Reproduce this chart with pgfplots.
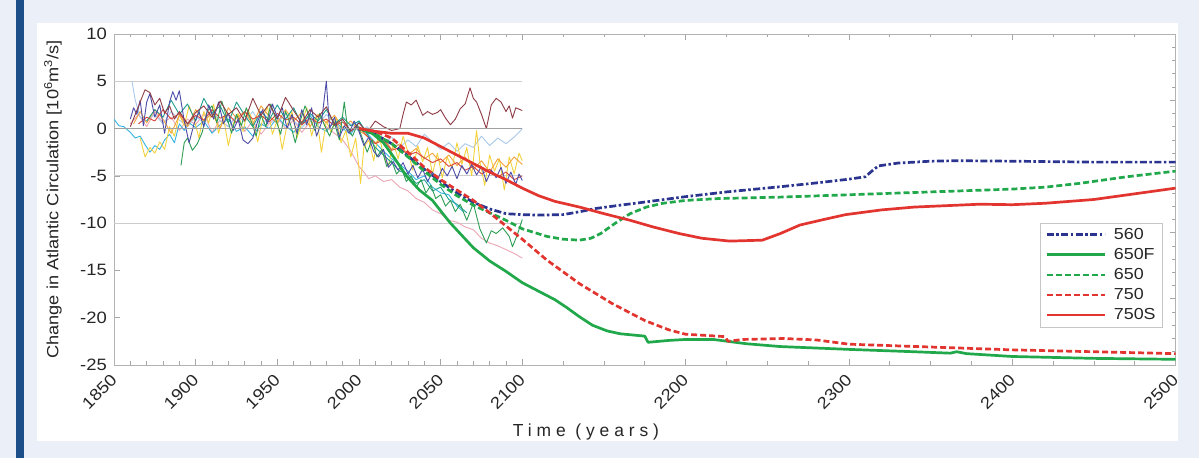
\documentclass[border=0pt]{standalone}
\usepackage{fontspec}
\setmainfont{Liberation Sans}[FakeStretch=1.12]
\newfontfamily\spaced{Liberation Sans}[LetterSpace=28]
\usepackage{pgfplots}
\pgfplotsset{compat=1.18}

\definecolor{bgcol}{HTML}{EBF0F8}
\definecolor{barcol}{HTML}{1C4E8A}
\definecolor{navy}{HTML}{2B3590}
\definecolor{grn}{HTML}{20A84A}
\definecolor{rd}{HTML}{E2352F}
% thin control / observed runs
\definecolor{tcyan}{HTML}{35B4E0}
\definecolor{tpale}{HTML}{A9C9EA}
\definecolor{tblue}{HTML}{4B4BA8}
\definecolor{tmaroon}{HTML}{8E3B46}
\definecolor{torange}{HTML}{F2A23A}
\definecolor{tyellow}{HTML}{F4D23E}
\definecolor{tgreen}{HTML}{2E9E55}
\definecolor{tpink}{HTML}{EBA6B5}
\definecolor{tteal}{HTML}{1E9E8E}
\definecolor{tred}{HTML}{D9453A}

\begin{document}
\begin{tikzpicture}[x=1bp,y=1bp]
\useasboundingbox (0,0) rectangle (1199,458);
\fill[bgcol] (0,0) rectangle (1199,458);
\fill[barcol] (16,0) rectangle (24,458);
\fill[white] (37,17) rectangle (1178,435);

% right-hand minor ticks
\begin{axis}[at={(114bp,93bp)}, anchor=south west, scale only axis,
  width=1061.6bp, height=331bp,
  xmin=0, xmax=1, ymin=0, ymax=25,
  hide x axis, axis y line*=right,
  ytick={0,5,...,25}, minor y tick num=4, yticklabels={},
  tick align=inside, major tick length=6bp, minor tick length=3.5bp,
  axis line style={draw=gray!60}, tick style={gray!70, line width=0.6bp}]
\end{axis}

\begin{axis}[at={(114bp,93bp)}, anchor=south west, scale only axis,
  width=1061.6bp, height=331bp,
  xmin=1850, xmax=2500, ymin=-25, ymax=10,
  axis line style={draw=gray!60, line width=0.8bp},
  tick style={gray!70, line width=0.6bp},
  tick align=inside, major tick length=6bp, minor tick length=3.5bp,
  ytick pos=left,
  xtick={1850,1900,1950,2000,2050,2100,2200,2300,2400,2500},
  xticklabels={1850,1900,1950,2000,2050,2100,2200,2300,2400,2500},
  minor xtick={1860,1870,1880,1890,1910,1920,1930,1940,1960,1970,1980,1990,2010,2020,2030,2040,2060,2070,2080,2090,2125,2150,2175,2225,2250,2275,2325,2350,2375,2425,2450,2475},
  ytick={-25,-20,-15,-10,-5,0,5,10},
  yticklabels={-25,-20,-15,-10,-5,0,5,10},
  tick label style={font=\fontsize{16.5}{17}\selectfont, text=black!85},
  x tick label style={rotate=45, anchor=east, inner sep=0pt},
  xticklabel shift=12bp,
  y tick label style={inner sep=1bp, xshift=-6bp},
  xlabel={\spaced Time (years)},
  xlabel style={at={(axis description cs:0.4446,-0.178)}, anchor=north, inner sep=0pt,
    font=\fontsize{17.5}{17}\selectfont, text=black!85},
  ylabel={Change in Atlantic Circulation [10\textsuperscript{6}m\textsuperscript{3}/s]},
  ylabel style={at={(axis description cs:-0.049,0.5)}, anchor=south, inner sep=0pt,
    font=\fontsize{16.3}{16}\selectfont, text=black!85},
  legend style={at={(rel axis cs:0.988,0.43)}, anchor=north east,
    draw=gray!45, font=\fontsize{16}{16}\selectfont, text=black!85,
    row sep=3.5bp, inner xsep=5bp, inner ysep=3.5bp, cells={anchor=west}},
  legend image code/.code={\draw[#1] (0bp,0bp) -- (58bp,0bp); \path (64bp,0bp);},
  every axis plot/.append style={line join=round},
]

% partial grid lines
\addplot[forget plot, gray!40, line width=0.8bp] coordinates {(1850,5)(2100,5)};
\addplot[forget plot, gray!40, line width=0.8bp] coordinates {(1850,-5)(2100,-5)};
\addplot[forget plot, gray!40, line width=0.8bp] coordinates {(1850,-10)(2100,-10)};

% thin runs
\addplot[forget plot, tpink, line width=0.9bp] coordinates {
(1860,0.5)(1865,1.5)(1870,0.2)(1875,1.8)(1880,0.6)(1885,1.2)(1890,-0.2)(1895,1.0)(1900,0.4)(1905,1.6)(1910,-0.4)(1915,0.9)(1920,0.2)(1925,1.3)(1930,-0.3)(1935,0.8)(1940,-0.6)(1945,0.5)(1950,1.2)(1955,0.0)(1960,0.9)(1965,-0.4)(1970,0.7)(1975,1.4)(1980,0.2)(1985,-0.5)(1990,-1.2)(1995,-2.4)(2000,-4.0)(2003,-4.6)(2006,-5.3)(2010,-5.0)(2015,-5.6)(2020,-5.4)(2025,-6.2)(2030,-6.6)(2035,-7.4)(2040,-7.8)(2045,-8.6)(2050,-9.0)(2055,-9.7)(2060,-9.9)(2065,-10.4)(2070,-10.7)(2075,-11.6)(2080,-12.1)(2085,-12.4)(2090,-12.8)(2095,-13.2)(2100,-13.7)};
\addplot[forget plot, tpale, line width=0.9bp] coordinates {
(1861,5.0)(1863,3.0)(1866,1.2)(1870,0.8)(1875,1.5)(1880,0.5)(1885,1.8)(1890,0.9)(1895,0.2)(1900,1.3)(1905,0.6)(1910,1.9)(1915,0.8)(1920,0.2)(1925,1.4)(1930,0.7)(1935,1.8)(1940,0.3)(1945,1.2)(1950,0.5)(1955,1.6)(1960,0.8)(1965,0.1)(1970,1.0)(1975,0.4)(1980,1.5)(1985,0.6)(1990,-0.2)(1995,0.5)(2000,-0.3)(2005,0.2)(2010,-0.8)(2015,-1.6)(2020,-0.9)(2025,-2.0)(2030,-1.2)(2035,-1.9)(2040,-0.6)(2045,-1.4)(2050,-2.2)(2055,-1.5)(2060,-2.4)(2065,-1.6)(2070,-2.0)(2075,-0.8)(2080,-1.8)(2085,-1.0)(2090,-1.6)(2095,-0.9)(2098,-0.4)(2100,0.0)};
\addplot[forget plot, tcyan, line width=0.9bp] coordinates {
(1850,1.0)(1853,0.3)(1856,0.2)(1860,-0.4)(1863,-1.0)(1866,-0.8)(1869,-1.7)(1872,-2.5)(1875,-1.8)(1878,-2.2)(1881,-1.2)(1884,-0.6)(1887,-1.5)(1890,0.5)(1893,-0.2)(1896,0.6)(1900,0.1)(1905,0.8)(1910,-0.5)(1915,0.4)(1920,1.0)(1925,-0.3)(1930,0.2)(1935,-0.8)(1940,0.5)(1945,0.0)(1950,1.2)(1955,0.3)(1960,-0.4)(1965,0.6)(1970,1.4)(1975,0.2)(1980,-0.3)(1985,0.8)(1990,0.0)(1995,-0.6)(2000,0.8)(2005,-0.5)(2010,-1.5)(2015,-2.4)(2020,-3.2)(2025,-3.8)(2030,-4.5)(2035,-5.4)(2040,-5.0)(2045,-6.2)(2050,-6.8)(2055,-7.0)(2060,-8.2)(2064,-8.8)};
\addplot[forget plot, tyellow, line width=0.9bp] coordinates {
(1866,-1.0)(1869,-3.0)(1872,-2.0)(1875,-2.6)(1878,-1.4)(1881,-2.2)(1884,0.2)(1887,-0.8)(1890,1.5)(1893,0.3)(1896,2.4)(1899,1.0)(1902,-1.0)(1905,1.8)(1908,0.6)(1911,2.6)(1914,-0.5)(1917,1.2)(1920,-1.8)(1923,0.5)(1926,1.6)(1929,-0.3)(1932,2.0)(1935,0.8)(1938,-1.4)(1941,1.0)(1944,2.3)(1947,-0.6)(1950,0.9)(1953,-2.2)(1956,0.4)(1959,1.8)(1962,-1.0)(1965,0.6)(1968,2.2)(1971,-0.8)(1974,1.4)(1977,-2.5)(1980,0.8)(1983,-0.4)(1986,1.2)(1989,-1.5)(1992,-0.2)(1995,-3.0)(1998,-1.0)(2001,-5.8)(2003,-2.0)(2006,-1.2)(2009,-3.4)(2012,-0.5)(2015,-2.8)(2018,-4.0)(2021,-1.5)(2024,-3.2)(2027,-0.8)(2030,-2.5)(2033,-4.4)(2036,-1.8)(2039,-3.5)(2042,-2.0)(2045,-4.8)(2048,-2.6)(2051,-5.2)(2054,-3.0)(2057,-4.2)(2060,-1.5)(2063,-3.8)(2066,-2.0)(2069,-5.0)(2072,-0.2)(2074,-3.5)(2077,-6.0)(2080,-2.8)(2083,-4.5)(2086,-3.2)(2089,-6.5)(2092,-3.0)(2095,-4.8)(2098,-2.6)(2100,-3.4)};
\addplot[forget plot, torange, line width=0.9bp] coordinates {
(1862,0.5)(1866,1.8)(1870,0.6)(1875,2.0)(1880,1.0)(1885,-0.5)(1890,1.4)(1895,0.2)(1900,2.0)(1905,0.8)(1910,1.6)(1915,0.0)(1920,2.2)(1925,1.1)(1930,1.8)(1935,0.4)(1940,2.4)(1945,1.3)(1950,0.6)(1955,2.0)(1960,0.8)(1965,1.7)(1970,0.2)(1975,1.5)(1980,0.6)(1985,1.4)(1990,0.1)(1995,0.8)(2000,-0.2)(2005,-0.8)(2010,-1.5)(2015,-1.0)(2020,-2.2)(2025,-1.6)(2030,-2.8)(2035,-2.1)(2040,-3.2)(2045,-2.6)(2050,-3.6)(2055,-2.8)(2060,-3.9)(2065,-3.0)(2070,-4.3)(2075,-3.4)(2080,-4.6)(2085,-3.2)(2090,-4.1)(2095,-3.0)(2100,-3.8)};
\addplot[forget plot, tteal, line width=0.9bp] coordinates {
(1870,0.8)(1875,2.0)(1880,1.2)(1885,3.0)(1890,1.5)(1895,2.6)(1900,0.8)(1905,3.2)(1910,1.6)(1915,2.4)(1920,0.6)(1925,2.8)(1930,1.4)(1935,0.2)(1940,1.8)(1945,0.9)(1950,2.5)(1955,1.0)(1960,2.2)(1965,0.4)(1970,1.6)(1975,0.8)(1980,2.0)(1985,0.5)(1990,1.2)(1995,0.3)(2000,0.8)(2005,-0.6)(2010,-2.0)(2015,-2.8)(2020,-3.6)(2025,-4.5)(2030,-4.8)(2035,-5.8)(2040,-5.4)(2045,-6.6)(2050,-6.2)(2055,-7.5)(2060,-8.0)(2066,-8.9)};
\addplot[forget plot, tred, line width=0.9bp] coordinates {
(1865,0.5)(1870,1.2)(1875,0.8)(1880,2.0)(1885,1.0)(1890,1.6)(1895,0.5)(1900,1.4)(1905,0.9)(1910,2.0)(1915,1.1)(1920,1.5)(1925,0.6)(1930,1.8)(1935,1.0)(1940,1.4)(1945,0.7)(1950,1.6)(1955,0.9)(1960,1.2)(1965,0.4)(1970,1.1)(1975,0.6)(1980,1.0)(1985,0.3)(1990,0.7)(1995,-0.2)(2000,0.2)(2005,-0.8)(2010,-1.6)(2015,-1.2)(2020,-2.3)(2025,-2.0)(2030,-2.8)(2035,-2.5)(2040,-3.1)(2045,-3.6)(2050,-3.2)(2055,-4.0)(2060,-3.6)(2065,-4.4)(2070,-4.0)(2075,-4.8)(2080,-4.3)(2085,-5.1)(2090,-4.6)(2095,-5.4)(2100,-5.0)};
\addplot[forget plot, tgreen, line width=0.9bp] coordinates {
(1891,-3.9)(1893,-1.5)(1895,-1.0)(1898,-2.3)(1901,-1.6)(1904,-0.4)(1907,1.8)(1910,2.4)(1913,0.6)(1916,2.9)(1919,1.2)(1922,-0.5)(1925,1.5)(1928,0.3)(1931,2.2)(1934,0.8)(1937,-0.8)(1940,1.4)(1943,0.2)(1946,2.6)(1949,1.0)(1952,-0.6)(1955,1.8)(1958,0.5)(1961,-1.5)(1964,0.8)(1967,2.4)(1970,1.1)(1973,-0.2)(1976,1.6)(1979,0.3)(1982,-0.8)(1985,0.6)(1988,-1.2)(1991,2.8)(1993,0.0)(1996,-0.8)(1999,0.4)(2002,-1.0)(2005,-2.5)(2008,-1.2)(2011,-3.0)(2014,-2.2)(2017,-4.0)(2020,-3.4)(2023,-4.8)(2026,-4.2)(2029,-5.6)(2032,-5.0)(2035,-6.2)(2038,-5.4)(2041,-6.8)(2044,-6.0)(2047,-7.4)(2050,-7.0)(2053,-8.2)(2056,-7.6)(2059,-8.8)(2062,-8.0)(2066,-9.7)(2070,-7.9)(2074,-10.6)(2078,-12.1)(2081,-10.8)(2084,-11.1)(2088,-10.5)(2092,-11.4)(2094,-12.5)(2097,-11.2)(2100,-9.6)};
\addplot[forget plot, tblue, line width=0.9bp] coordinates {
(1860,1.0)(1862,2.2)(1864,1.5)(1866,3.0)(1868,0.3)(1870,2.8)(1872,3.7)(1875,1.2)(1878,2.5)(1881,-0.5)(1884,2.8)(1886,3.9)(1888,3.0)(1890,4.0)(1893,0.8)(1896,-1.5)(1899,0.5)(1902,1.8)(1905,0.2)(1908,2.5)(1911,1.0)(1914,2.8)(1917,0.5)(1920,1.6)(1923,-0.2)(1926,1.0)(1929,-1.2)(1932,-1.6)(1935,-1.0)(1938,0.8)(1941,2.0)(1944,0.5)(1947,2.6)(1950,1.2)(1953,2.2)(1956,0.0)(1959,1.5)(1962,-0.5)(1965,2.0)(1968,0.4)(1971,2.2)(1974,-0.8)(1977,0.6)(1980,5.0)(1982,0.0)(1985,1.2)(1988,-0.9)(1991,0.3)(1994,-0.5)(1997,0.8)(2000,-0.3)(2003,-1.8)(2006,-0.9)(2009,-2.4)(2012,-3.0)(2015,-2.2)(2018,-4.1)(2021,-3.5)(2024,-4.4)(2027,-3.6)(2030,-4.8)(2033,-3.9)(2036,-5.2)(2039,-4.3)(2042,-5.6)(2045,-4.6)(2048,-5.5)(2051,-4.2)(2054,-5.0)(2057,-4.0)(2060,-5.3)(2063,-3.9)(2066,-4.8)(2069,-3.8)(2072,-4.9)(2075,-4.0)(2078,-5.6)(2081,-4.4)(2084,-5.2)(2087,-4.1)(2090,-5.8)(2093,-4.6)(2096,-5.9)(2098,-4.8)(2100,-5.5)};
\addplot[forget plot, tmaroon, line width=0.9bp] coordinates {
(1860,0.2)(1863,1.5)(1866,2.8)(1869,4.1)(1872,3.8)(1875,2.5)(1878,3.2)(1881,1.6)(1884,2.4)(1887,1.0)(1890,1.8)(1895,0.5)(1900,1.7)(1905,2.4)(1910,1.2)(1915,2.9)(1920,1.5)(1925,2.2)(1930,0.8)(1935,3.2)(1940,1.4)(1945,2.6)(1950,1.0)(1955,3.3)(1960,1.9)(1965,0.6)(1970,2.0)(1975,1.2)(1980,2.3)(1985,0.4)(1990,1.0)(1995,-0.3)(2000,0.6)(2005,-0.4)(2010,0.8)(2015,0.2)(2020,-0.2)(2025,0.0)(2027,1.5)(2029,2.8)(2032,2.5)(2035,3.0)(2037,2.2)(2039,1.4)(2042,1.8)(2045,1.5)(2048,1.7)(2050,2.0)(2053,1.1)(2056,0.4)(2059,1.0)(2062,2.1)(2065,2.6)(2068,4.3)(2070,3.2)(2072,2.8)(2075,1.5)(2078,0.0)(2081,2.5)(2084,3.2)(2087,2.8)(2090,1.8)(2092,2.4)(2094,1.1)(2096,2.2)(2100,1.9)};

% zero line
\addplot[forget plot, gray!75, line width=1.2bp] coordinates {(1850,0)(2100,0)};

% model projections
\addplot[navy, line width=2.7bp, dash pattern=on 7bp off 2.5bp on 2.5bp off 2.5bp] coordinates {
(2000,0)(2010,-0.6)(2020,-1.6)(2030,-2.9)(2040,-4.3)(2050,-5.6)(2060,-6.8)(2070,-7.8)(2080,-8.5)(2090,-9.0)(2100,-9.1)(2110,-9.15)(2125,-9.1)(2135,-8.8)(2145,-8.45)(2160,-8.1)(2176,-7.75)(2200,-7.2)(2225,-6.7)(2258,-6.15)(2280,-5.75)(2300,-5.35)(2310,-5.1)(2314,-4.5)(2318,-3.95)(2330,-3.65)(2350,-3.45)(2366,-3.4)(2400,-3.45)(2450,-3.55)(2500,-3.55)};
\addplot[grn, line width=2.7bp] coordinates {
(2000,0)(2008,-0.5)(2015,-1.5)(2022,-3.2)(2029,-5.0)(2037,-6.5)(2045,-7.6)(2050,-8.7)(2056,-10.0)(2063,-11.3)(2070,-12.6)(2080,-14.0)(2090,-15.1)(2100,-16.3)(2110,-17.2)(2120,-18.1)(2127,-18.9)(2135,-19.9)(2143,-20.8)(2152,-21.4)(2160,-21.7)(2175,-21.95)(2177,-22.6)(2190,-22.4)(2200,-22.3)(2217,-22.3)(2237,-22.75)(2258,-23.05)(2300,-23.35)(2340,-23.6)(2362,-23.75)(2366,-23.6)(2372,-23.8)(2400,-24.1)(2450,-24.3)(2500,-24.4)};
\addplot[grn, line width=2.7bp, dash pattern=on 6bp off 3bp] coordinates {
(2000,0)(2010,-0.6)(2020,-1.6)(2030,-3.0)(2040,-4.5)(2050,-5.9)(2060,-7.1)(2070,-8.1)(2080,-8.9)(2090,-9.7)(2100,-10.6)(2115,-11.4)(2125,-11.7)(2135,-11.8)(2142,-11.6)(2148,-11.1)(2157,-10.0)(2166,-9.0)(2176,-8.3)(2186,-7.9)(2200,-7.6)(2220,-7.4)(2258,-7.25)(2300,-7.0)(2350,-6.7)(2400,-6.4)(2420,-6.2)(2441,-5.8)(2470,-5.1)(2500,-4.5)};
\addplot[rd, line width=2.7bp, dash pattern=on 6bp off 3bp] coordinates {
(2000,0)(2010,-0.3)(2020,-1.0)(2030,-2.5)(2040,-4.1)(2050,-5.4)(2060,-6.5)(2070,-7.6)(2080,-8.9)(2090,-10.3)(2100,-11.7)(2115,-13.9)(2135,-16.4)(2155,-18.5)(2175,-20.3)(2190,-21.3)(2200,-21.75)(2215,-21.9)(2224,-22.0)(2226,-22.5)(2235,-22.3)(2260,-22.2)(2280,-22.35)(2300,-22.8)(2350,-23.1)(2400,-23.4)(2450,-23.6)(2500,-23.8)};
\addplot[rd, line width=2.7bp] coordinates {
(2000,0)(2010,-0.3)(2020,-0.5)(2030,-0.5)(2040,-1.0)(2050,-1.9)(2060,-2.8)(2070,-3.7)(2080,-4.6)(2090,-5.4)(2100,-6.3)(2110,-7.1)(2120,-7.7)(2135,-8.3)(2150,-9.0)(2166,-9.7)(2180,-10.4)(2196,-11.1)(2210,-11.6)(2227,-11.9)(2247,-11.8)(2258,-11.1)(2270,-10.2)(2285,-9.6)(2298,-9.1)(2320,-8.6)(2340,-8.3)(2380,-8.0)(2400,-8.05)(2420,-7.9)(2450,-7.5)(2475,-6.9)(2500,-6.3)};

\legend{560,650F,650,750,750S}
\end{axis}
\end{tikzpicture}
\end{document}
